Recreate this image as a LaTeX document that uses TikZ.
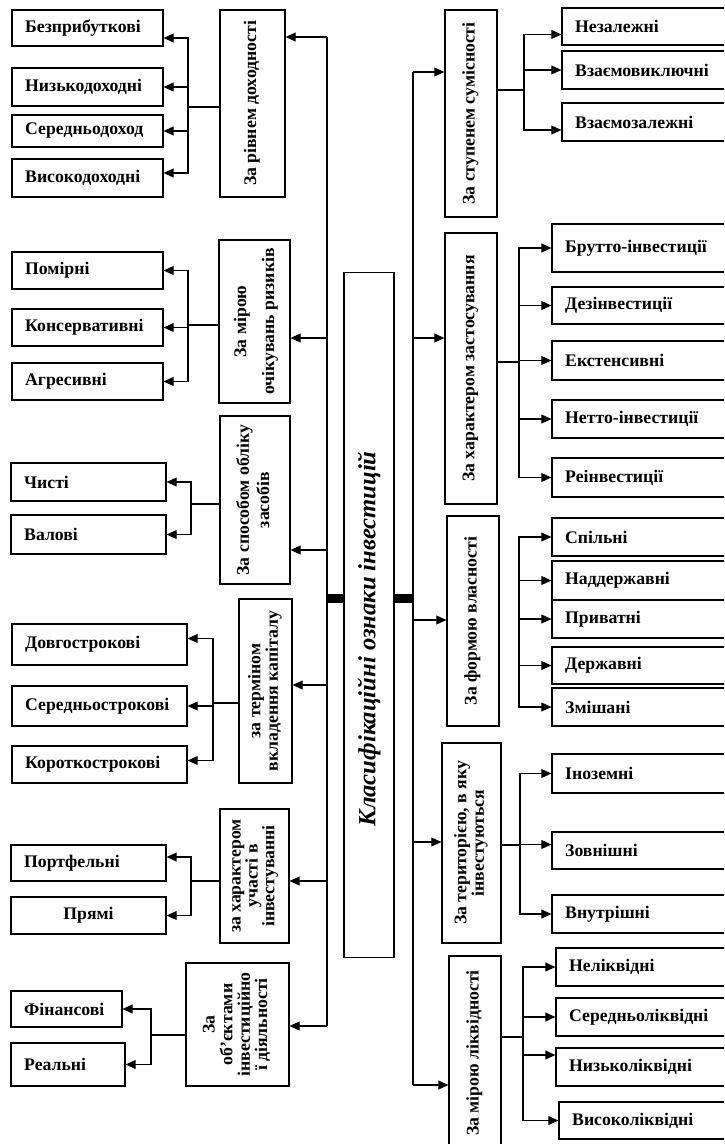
\documentclass[tikz,border=0pt]{standalone}
\usepackage{fontspec}
\setmainfont{Liberation Serif}
\usepackage{graphicx}
\usetikzlibrary{arrows.meta}

\newcommand{\rottext}[2][0.9]{\rotatebox{90}{\renewcommand{\arraystretch}{#1}\begin{tabular}{@{}c@{}}#2\end{tabular}}}

\tikzset{
  leaf/.style={draw, line width=0.8pt, align=left, inner xsep=0.33cm, inner ysep=0pt,
    font=\bfseries\fontsize{12.6}{13.5}\selectfont},
  cat/.style={draw, line width=0.8pt, inner sep=0pt,
    font=\bfseries\fontsize{12.6}{13.5}\selectfont},
  arr/.style={line width=0.8pt, -{Triangle[length=0.25cm,width=0.22cm]}},
  link/.style={line width=0.8pt},
  joint/.style={line width=0.225cm}
}

\begin{document}
\begin{tikzpicture}[x=0.025cm, y=-0.025cm]
\useasboundingbox (0,0) rectangle (724,1144);
\clip (0,0) rectangle (724,1144);

% central node
\node[cat, minimum width=1.25cm, minimum height=17.1cm,
  font=\bfseries\itshape\fontsize{17.5}{18}\selectfont] (main) at (369,615)
  {\rotatebox{90}{Класифікаційні ознаки інвестицій\kern1.2cm}};

% left side
\node[cat, minimum width=1.625cm, minimum height=4.675cm] (dokh) at (252.5,103.5) {\rottext{За рівнем доходності}};
\node[cat, minimum width=1.775cm, minimum height=4.075cm] (ryzyk) at (254.5,321.5) {\rottext[1.48]{За мірою\\очікувань ризиків}};
\node[cat, minimum width=1.75cm, minimum height=4.2cm] (oblik) at (255,500) {\rottext[1.06]{За способом обліку\\засобів}};
\node[cat, minimum width=1.325cm, minimum height=4.6cm] (termin) at (265.5,691) {\rottext{за терміном\\вкладення капіталу}};
\node[cat, minimum width=1.725cm, minimum height=3.35cm] (uchast) at (254.5,876) {\rottext[0.8]{за характером\\участі в\\інвестуванні}};
\node[cat, minimum width=2.575cm, minimum height=3.075cm] (obiekt) at (237.5,1024.5) {\rottext{За\\об’єктами\\інвестиційно\\ї діяльності}};

\node[leaf, text width=3.115cm, minimum height=0.9cm] (bezprib) at (87.5,28) {Безприбуткові};
\node[leaf, text width=3.115cm, minimum height=0.95cm] (nyzko) at (87.5,87) {Низькодоходні};
\node[leaf, text width=3.115cm, minimum height=0.8cm] (seredn) at (87.5,131) {Середньодоход};
\node[leaf, text width=3.115cm, minimum height=0.95cm] (vysoko) at (87.5,178) {Високодоходні};

\node[leaf, text width=3.115cm, minimum height=0.925cm] (pomirni) at (87.5,270.5) {Помірні};
\node[leaf, text width=3.115cm, minimum height=0.925cm] (konserv) at (87.5,327.5) {Консервативні};
\node[leaf, text width=3.115cm, minimum height=0.925cm] (agres) at (87.5,381.5) {Агресивні};

\node[leaf, text width=3.215cm, minimum height=0.95cm] (chysti) at (88.5,482) {Чисті};
\node[leaf, text width=3.215cm, minimum height=0.975cm] (valovi) at (88.5,534.5) {Валові};

\node[leaf, text width=3.715cm, minimum height=1.025cm] (dovho) at (99.5,644.5) {Довгострокові};
\node[leaf, text width=3.715cm, minimum height=1cm] (serednio) at (99.5,706) {Середньострокові};
\node[leaf, text width=3.715cm, minimum height=0.925cm] (korotko) at (99.5,764.5) {Короткострокові};

\node[leaf, text width=3.215cm, minimum height=0.9cm] (portf) at (88.5,863) {Портфельні};
\node[leaf, text width=3.215cm, minimum height=0.925cm, align=center] (priami) at (88.5,915.5) {Прямі};

\node[leaf, text width=2.115cm, minimum height=0.9cm] (finans) at (66.5,1009) {Фінансові};
\node[leaf, text width=2.19cm, minimum height=1.075cm] (realni) at (68,1064.5) {Реальні};

% right side
\node[cat, minimum width=1.3cm, minimum height=5.175cm] (sumisn) at (471,113.5) {\rottext{За ступенем сумісності}};
\node[cat, minimum width=1.3cm, minimum height=6.775cm] (zastos) at (471,368.5) {\rottext{За характером застосування}};
\node[cat, minimum width=1.3cm, minimum height=5.25cm] (vlasn) at (473,621) {\rottext{За формою власності}};
\node[cat, minimum width=1.475cm, minimum height=5cm] (terit) at (471.5,843) {\rottext{За територією, в яку\\інвестуються}};
\node[cat, minimum width=1.3cm, minimum height=4.85cm] (likv) at (475,1053) {\rottext{За мірою ліквідності}};

\node[leaf, text width=3.79cm, minimum height=0.925cm] (nezal) at (651,26.5) {Незалежні};
\node[leaf, text width=3.79cm, minimum height=0.95cm] (vzvykl) at (651,70) {Взаємовиключні};
\node[leaf, text width=3.79cm, minimum height=0.95cm] (vzzal) at (651,122) {Взаємозалежні};

\node[leaf, text width=4.04cm, minimum height=1.2cm] (brutto) at (646,248) {Брутто-інвестиції};
\node[leaf, text width=4.04cm, minimum height=0.925cm] (dezinv) at (646,305.5) {Дезінвестиції};
\node[leaf, text width=4.04cm, minimum height=0.975cm] (ekst) at (646,360.5) {Екстенсивні};
\node[leaf, text width=4.04cm, minimum height=0.95cm] (netto) at (646,419) {Нетто-інвестиції};
\node[leaf, text width=4.04cm, minimum height=0.975cm] (reinv) at (646,477.5) {Реінвестиції};

\node[leaf, text width=4.04cm, minimum height=0.95cm] (spilni) at (646,537) {Спільні};
\node[leaf, text width=4.04cm, minimum height=0.975cm] (nadderzh) at (646,580.5) {Наддержавні};
\node[leaf, text width=4.04cm, minimum height=0.95cm] (pryvat) at (646,619) {Приватні};
\node[leaf, text width=4.04cm, minimum height=0.925cm] (derzh) at (646,665.5) {Державні};
\node[leaf, text width=4.04cm, minimum height=0.95cm] (zmish) at (646,707) {Змішані};

\node[leaf, text width=4.04cm, minimum height=0.975cm] (inozem) at (646,773.5) {Іноземні};
\node[leaf, text width=4.04cm, minimum height=0.925cm] (zovn) at (646,850.5) {Зовнішні};
\node[leaf, text width=4.04cm, minimum height=0.95cm] (vnutr) at (646,914) {Внутрішні};

\node[leaf, text width=3.94cm, minimum height=0.95cm] (neliq) at (648,967) {Неліквідні};
\node[leaf, text width=3.94cm, minimum height=0.95cm] (serliq) at (648,1017) {Середньоліквідні};
\node[leaf, text width=3.94cm, minimum height=0.95cm] (nyzliq) at (648,1067) {Низьколіквідні};
\node[leaf, text width=3.865cm, minimum height=0.925cm] (vysliq) at (649.5,1120.5) {Високоліквідні};

% left bus
\coordinate (l1) at (327,37);
\coordinate (l2) at (327,338);
\coordinate (l3) at (327,550);
\coordinate (l4) at (327,685);
\coordinate (l5) at (327,881);
\coordinate (l6) at (327,1026);
\coordinate (lm) at (327,598);
\draw[link] (l1) -- (l6);
\draw[arr] (l1) -- (dokh.east |- l1);
\draw[arr] (l2) -- (ryzyk.east |- l2);
\draw[arr] (l3) -- (oblik.east |- l3);
\draw[arr] (l4) -- (termin.east |- l4);
\draw[arr] (l5) -- (uchast.east |- l5);
\draw[arr] (l6) -- (obiekt.east |- l6);
\draw[joint] (lm) -- (main.west |- lm);

% right bus
\coordinate (r1) at (413,72);
\coordinate (r2) at (413,338);
\coordinate (r3) at (413,620);
\coordinate (r4) at (413,842);
\coordinate (r5) at (413,1085);
\coordinate (rm) at (413,598);
\draw[link] (r1) -- (r5);
\draw[arr] (r1) -- (sumisn.west |- r1);
\draw[arr] (r2) -- (zastos.west |- r2);
\draw[arr] (r3) -- (vlasn.west |- r3);
\draw[arr] (r4) -- (terit.west |- r4);
\draw[arr] (r5) -- (likv.west |- r5);
\draw[joint] (main.east |- rm) -- (rm);

% left branches
\coordinate (j1) at (188,107);
\draw[link] (dokh.west |- j1) -- (j1);
\draw[arr] (j1) |- ([yshift=-0.25cm]bezprib.east);
\draw[arr] (j1) |- (nyzko.east);
\draw[arr] (j1) |- (seredn.east);
\draw[arr] (j1) |- ([yshift=0.125cm]vysoko.east);

\coordinate (j2) at (188,325);
\draw[link] (ryzyk.west |- j2) -- (j2);
\draw[arr] (j2) |- (pomirni.east);
\draw[arr] (j2) |- (konserv.east);
\draw[arr] (j2) |- (agres.east);

\coordinate (j3) at (191,504);
\draw[link] (oblik.west |- j3) -- (j3);
\draw[arr] (j3) |- (chysti.east);
\draw[arr] (j3) |- (valovi.east);

\coordinate (j4) at (213,703);
\draw[link] (termin.west |- j4) -- (j4);
\draw[arr] (j4) |- ([yshift=0.15cm]dovho.east);
\draw[arr] (j4) |- (serednio.east);
\draw[arr] (j4) |- ([yshift=0.1cm]korotko.east);

\coordinate (j5) at (191,881);
\draw[link] (uchast.west |- j5) -- (j5);
\draw[arr] (j5) |- ([yshift=0.15cm]portf.east);
\draw[arr] (j5) |- (priami.east);

\coordinate (j6) at (151,1035);
\draw[link] (obiekt.west |- j6) -- (j6);
\draw[arr] (j6) |- (finans.east);
\draw[arr] (j6) |- (realni.east);

% right branches
\coordinate (j7) at (524,90);
\draw[link] (sumisn.east |- j7) -- (j7);
\draw[arr] (j7) |- ([yshift=-0.2cm]nezal.west);
\draw[arr] (j7) |- (vzvykl.west);
\draw[arr] (j7) |- ([yshift=-0.2cm]vzzal.west);

\coordinate (j8) at (519,362);
\draw[link] (zastos.east |- j8) -- (j8);
\draw[arr] (j8) |- (brutto.west);
\draw[arr] (j8) |- (dezinv.west);
\draw[arr] (j8) |- (ekst.west);
\draw[arr] (j8) |- (netto.west);
\draw[arr] (j8) |- (reinv.west);

\coordinate (j9) at (519,620);
\draw[arr] (j9) |- (spilni.west);
\draw[arr] (j9) |- (nadderzh.west);
\draw[arr] (j9) |- (pryvat.west);
\draw[arr] (j9) |- (derzh.west);
\draw[arr] (j9) |- (zmish.west);

\coordinate (j10) at (520,845);
\draw[link] (terit.east |- j10) -- (j10);
\draw[arr] (j10) |- (inozem.west);
\draw[arr] (j10) |- ([yshift=0.15cm]zovn.west);
\draw[arr] (j10) |- (vnutr.west);

\coordinate (j11) at (523,1037);
\draw[link] (likv.east |- j11) -- (j11);
\draw[arr] (j11) |- (neliq.west);
\draw[arr] (j11) |- (serliq.west);
\draw[arr] (j11) |- ([yshift=0.3cm]nyzliq.west);
\draw[arr] (j11) |- (vysliq.west);
\end{tikzpicture}
\end{document}
